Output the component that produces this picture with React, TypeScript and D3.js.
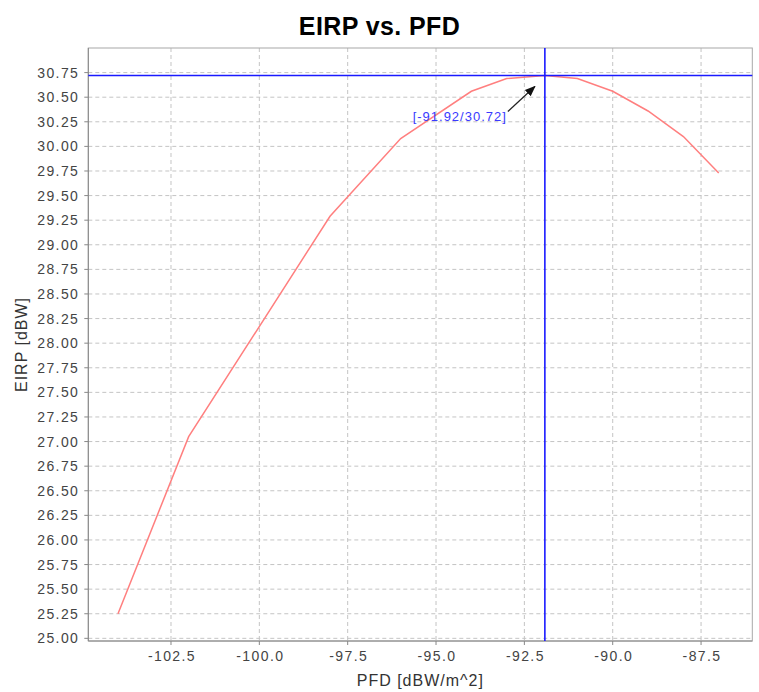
import React from "react";
import * as d3 from "d3";

const pfd = [-104, -102, -98, -96, -94, -93, -91.92, -91, -90, -89, -88, -87];
const eirp = [25.25, 27.05, 29.29, 30.08, 30.56, 30.69, 30.72, 30.69, 30.56, 30.36, 30.1, 29.73];
const xTicks = [-102.5, -100, -97.5, -95, -92.5, -90, -87.5];
const yTicks = d3.range(0, 24).map((i) => 25 + i * 0.25);
const marker = { x: -91.92, y: 30.72 };
const title = "EIRP vs. PFD";
const xTitle = "PFD [dBW/m^2]";
const yTitle = "EIRP [dBW]";

const W = 759;
const H = 692;
const L = 88.3, R = 752.3, T = 48, B = 641;

export default function App() {
  const x = d3.scaleLinear().domain([-104.84, -86.05]).range([L, R]);
  const y = d3.scaleLinear().domain([24.973, 31.0]).range([B, T]);
  const pts = pfd.map((v, i) => [v, eirp[i]] as [number, number]);
  const line = d3.line<[number, number]>().x((d) => x(d[0])).y((d) => y(d[1]));
  const mx = x(marker.x);
  const my = y(marker.y);
  const tickFont = { fontFamily: "Arial, 'Liberation Sans', sans-serif", fontSize: 14, letterSpacing: 1.4, fill: "#444" };
  return (
    <svg width={W} height={H} style={{ position: "absolute", left: 0, top: 0, background: "#fff" }}>
      <defs>
        <marker id="ah" viewBox="0 0 10 10" refX="9" refY="5" markerWidth="9" markerHeight="9" orient="auto">
          <path d="M0,1 L10,5 L0,9 z" fill="#111" />
        </marker>
      </defs>
      <text x={W / 2} y={35} textAnchor="middle" fontFamily="Arial, 'Liberation Sans', sans-serif" fontWeight="bold" fontSize={25} letterSpacing={0.4} fill="#000">
        {title}
      </text>
      {yTicks.map((t) => (
        <line key={"gy" + t} x1={L} x2={R} y1={y(t)} y2={y(t)} stroke="#c4c4c4" strokeDasharray="4,3" />
      ))}
      {xTicks.map((t) => (
        <line key={"gx" + t} x1={x(t)} x2={x(t)} y1={T} y2={B} stroke="#c4c4c4" strokeDasharray="4,3" />
      ))}
      <rect x={L} y={T} width={R - L} height={B - T} fill="none" stroke="#a8a8a8" />
      <line x1={L} x2={L} y1={T} y2={B} stroke="#888" />
      <line x1={L} x2={R} y1={B} y2={B} stroke="#888" />
      {yTicks.map((t) => (
        <g key={"ty" + t}>
          <line x1={L - 4} x2={L} y1={y(t)} y2={y(t)} stroke="#888" />
          <text x={L - 9} y={y(t) + 5} textAnchor="end" {...tickFont}>
            {t.toFixed(2)}
          </text>
        </g>
      ))}
      {xTicks.map((t) => (
        <g key={"tx" + t}>
          <line x1={x(t)} x2={x(t)} y1={B} y2={B + 4} stroke="#888" />
          <text x={x(t) + 1} y={B + 20} textAnchor="middle" {...tickFont}>
            {t.toFixed(1)}
          </text>
        </g>
      ))}
      <text x={(L + R) / 2} y={686} textAnchor="middle" fontFamily="Arial, 'Liberation Sans', sans-serif" fontSize={16} letterSpacing={1} fill="#333">
        {xTitle}
      </text>
      <text transform={`translate(27,${(T + B) / 2}) rotate(-90)`} textAnchor="middle" fontFamily="Arial, 'Liberation Sans', sans-serif" fontSize={16} letterSpacing={1} fill="#333">
        {yTitle}
      </text>
      <path d={line(pts) || ""} fill="none" stroke="#ff7f7f" strokeWidth={1.5} />
      <line x1={L} x2={R} y1={my} y2={my} stroke="#1a1aff" strokeWidth={1.6} />
      <line x1={mx} x2={mx} y1={T} y2={B} stroke="#1a1aff" strokeWidth={1.6} />
      <line x1={mx - 37} y1={my + 36} x2={mx - 10} y2={my + 11} stroke="#222" strokeWidth={1.2} markerEnd="url(#ah)" />
      <text x={mx - 38} y={my + 45} textAnchor="end" fontFamily="Arial, 'Liberation Sans', sans-serif" fontSize={13} letterSpacing={1} fill="#3a3aff">
        {`[${marker.x.toFixed(2)}/${marker.y.toFixed(2)}]`}
      </text>
    </svg>
  );
}
